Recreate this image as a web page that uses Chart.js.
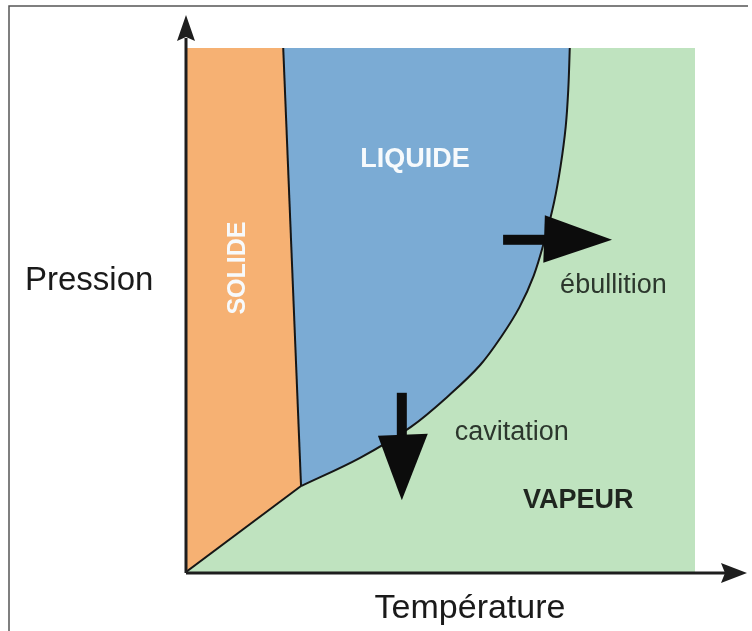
<!DOCTYPE html>
<html>
<head>
<meta charset="utf-8">
<script src="https://cdn.jsdelivr.net/npm/chart.js@4/dist/chart.umd.min.js"></script>
<style>
  html, body { margin: 0; padding: 0; background: #fff; }
  canvas { display: block; }
</style>
</head>
<body>
<canvas id="phase" width="752" height="631"></canvas>
<script>
// Diagramme de phase (unités arbitraires 0–100 sur les deux axes)
const tempVaporisation = [22.6, 34.2, 44.2, 52, 57.8, 62, 65.5, 68.3, 70.5, 72.3, 73.6, 74.6, 75.1, 75.4];
const presVaporisation = [16.4, 21.8, 27.7, 34, 39.5, 45, 50.5, 56.5, 63.5, 70.5, 77.5, 85, 92, 100];
const tempFusion = [22.6, 19.1];
const presFusion = [16.4, 100];
const tempSublimation = [0, 22.6];
const presSublimation = [0, 16.4];
const tempSolide = [0, 22.6, 19.1, 0];
const presSolide = [0, 16.4, 100, 100];
const tempLiquideBord = [19.1, 24, 24, 22.6];
const presLiquideBord = [100, 100, 17.1, 16.4];
const tempVapeur = [0, 100, 100, 0];
const presVapeur = [0, 0, 100, 100];

const axisTitles = ["Température", "Pression"];
const phaseNames = ["SOLIDE", "LIQUIDE", "VAPEUR"];
const arrowNames = ["ébullition", "cavitation"];

const ORANGE = "#F6B173";
const BLUE = "#7BABD4";
const GREEN = "#BFE3BF";
const INK = "#161616";
const FONT = '"Liberation Sans", Arial, sans-serif';

const pts = (xs, ys) => xs.map((x, i) => ({ x: x, y: ys[i] }));

const area = (xs, ys, color, order) => ({
  data: pts(xs, ys),
  showLine: true,
  fill: "shape",
  backgroundColor: color,
  borderColor: "transparent",
  borderWidth: 0,
  pointRadius: 0,
  order: order,
});

const boundary = (xs, ys) => ({
  data: pts(xs, ys),
  showLine: true,
  fill: false,
  borderColor: INK,
  borderWidth: 2,
  pointRadius: 0,
  order: 1,
});

// arrows + labels drawn on top of the areas
const decorations = {
  id: "decorations",
  afterDatasetsDraw(chart) {
    const ctx = chart.ctx;
    const x = chart.scales.x;
    const y = chart.scales.y;
    const ca = chart.chartArea;
    const X = (v) => x.getPixelForValue(v);
    const Y = (v) => y.getPixelForValue(v);

    ctx.save();

    // frame
    ctx.strokeStyle = "#555";
    ctx.lineWidth = 1.5;
    ctx.beginPath();
    ctx.moveTo(9, 631);
    ctx.lineTo(9, 6);
    ctx.lineTo(748, 6);
    ctx.stroke();

    // axes with arrow heads
    const ox = ca.left;
    const oy = ca.bottom + 1;
    ctx.strokeStyle = "#1e1e1e";
    ctx.fillStyle = "#1e1e1e";
    ctx.lineWidth = 3;
    ctx.beginPath();
    ctx.moveTo(ox, oy);
    ctx.lineTo(ox, ca.top - 10);
    ctx.moveTo(ox, oy);
    ctx.lineTo(ca.right + 30, oy);
    ctx.stroke();
    ctx.beginPath();
    ctx.moveTo(ox, ca.top - 33);
    ctx.lineTo(ox + 9, ca.top - 7);
    ctx.lineTo(ox, ca.top - 11);
    ctx.lineTo(ox - 9, ca.top - 7);
    ctx.closePath();
    ctx.fill();
    ctx.beginPath();
    ctx.moveTo(ca.right + 52, oy);
    ctx.lineTo(ca.right + 26, oy - 10);
    ctx.lineTo(ca.right + 30, oy);
    ctx.lineTo(ca.right + 26, oy + 10);
    ctx.closePath();
    ctx.fill();

    // ébullition arrow (horizontal)
    ctx.fillStyle = "#0c0c0c";
    ctx.fillRect(X(62.3), Y(63.4) - 5, X(70.9) - X(62.3), 10);
    ctx.beginPath();
    ctx.moveTo(X(70.5), Y(68.1));
    ctx.lineTo(X(83.7), Y(63.4));
    ctx.lineTo(X(70.2), Y(59.0));
    ctx.closePath();
    ctx.fill();

    // cavitation arrow (vertical)
    ctx.fillRect(X(42.4) - 5, Y(34.2), 10, Y(26.0) - Y(34.2));
    ctx.beginPath();
    ctx.moveTo(X(37.7), Y(26.0));
    ctx.lineTo(X(42.4), Y(13.7));
    ctx.lineTo(X(47.5), Y(26.4));
    ctx.closePath();
    ctx.fill();

    // phase names
    ctx.textBaseline = "alphabetic";
    ctx.fillStyle = "#f7fafc";
    ctx.font = "bold 27px " + FONT;
    ctx.textAlign = "center";
    ctx.fillText(phaseNames[1], X(45.0), Y(77.3));

    ctx.save();
    ctx.translate(X(10.2), Y(58.0));
    ctx.rotate(-Math.PI / 2);
    ctx.font = "bold 25px " + FONT;
    ctx.textBaseline = "middle";
    ctx.fillText(phaseNames[0], 0, 0);
    ctx.restore();

    ctx.fillStyle = "#1f261f";
    ctx.textAlign = "left";
    ctx.font = "bold 27px " + FONT;
    ctx.fillText(phaseNames[2], X(66.2), Y(12.2));

    ctx.fillStyle = "#2c372d";
    ctx.font = "27px " + FONT;
    ctx.fillText(arrowNames[0], X(73.5), Y(53.2));
    ctx.fillText(arrowNames[1], X(52.8), Y(25.2));

    // axis titles
    ctx.fillStyle = "#1a1a1a";
    ctx.font = "34px " + FONT;
    ctx.textAlign = "center";
    ctx.fillText(axisTitles[0], X(55.8), ca.bottom + 46);
    ctx.font = "33px " + FONT;
    ctx.textAlign = "left";
    ctx.fillText(axisTitles[1], 25, Y(53.8));

    ctx.restore();
  },
};

new Chart(document.getElementById("phase"), {
  type: "scatter",
  data: {
    datasets: [
      area(tempVapeur, presVapeur, GREEN, 6),
      area(tempLiquideBord, presLiquideBord, BLUE, 5),
      {
        data: pts(tempVaporisation, presVaporisation),
        showLine: true,
        fill: "end",
        backgroundColor: BLUE,
        borderColor: INK,
        borderWidth: 2,
        pointRadius: 0,
        tension: 0.35,
        order: 4,
      },
      area(tempSolide, presSolide, ORANGE, 3),
      boundary(tempFusion, presFusion),
      boundary(tempSublimation, presSublimation),
    ],
  },
  options: {
    responsive: false,
    animation: false,
    events: [],
    layout: { padding: { left: 186, right: 57, top: 48, bottom: 59 } },
    scales: {
      x: { type: "linear", min: 0, max: 100, display: false },
      y: { type: "linear", min: 0, max: 100, display: false },
    },
    plugins: {
      legend: { display: false },
      tooltip: { enabled: false },
    },
  },
  plugins: [decorations],
});
</script>
</body>
</html>
